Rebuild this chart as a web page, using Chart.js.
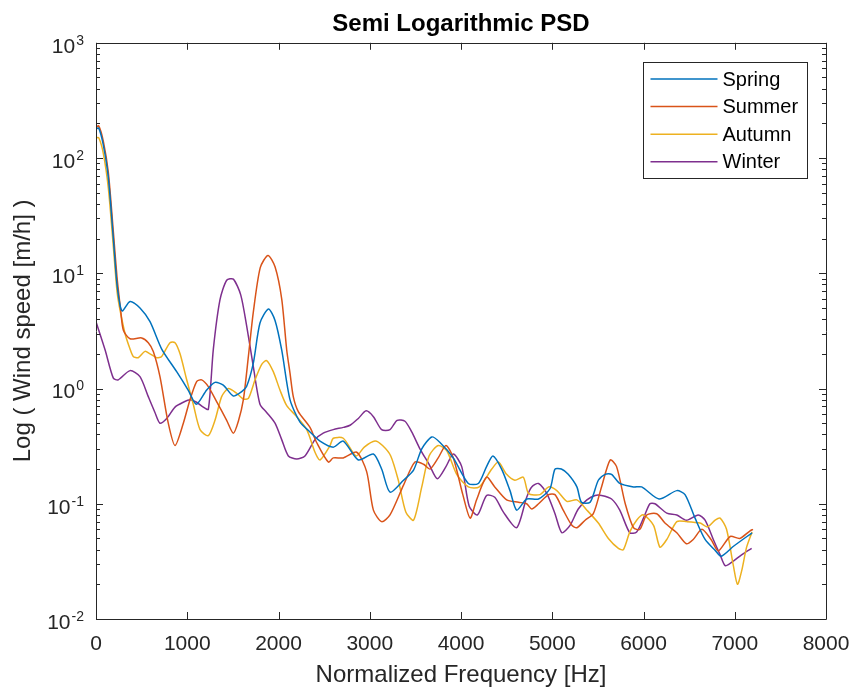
<!DOCTYPE html>
<html>
<head>
<meta charset="utf-8">
<title>Semi Logarithmic PSD</title>
<script src="https://cdn.jsdelivr.net/npm/chart.js@4.4.1/dist/chart.umd.min.js"></script>
<style>
  html, body { margin: 0; padding: 0; background: #fff; }
</style>
</head>
<body>
<canvas id="psdChart" width="853" height="690"></canvas>
<script>
const FONT = "'Liberation Sans', Arial, Helvetica, sans-serif";
const AXIS_COLOR = "#262626";

const seasons = ["Spring", "Summer", "Autumn", "Winter"];
const seasonColors = ["#0072BD", "#D95319", "#EDB120", "#7E2F8E"];

// frequency [Hz] / PSD pairs
const springFreq = [0, 30, 80, 135, 190, 230, 265, 290, 373, 482, 592, 720, 884, 1010, 1100, 1213, 1304, 1395, 1505, 1597, 1650, 1724, 1797, 1890, 1962, 2035, 2126, 2236, 2345, 2455, 2600, 2710, 2875, 3040, 3130, 3222, 3370, 3480, 3570, 3680, 3770, 3915, 4080, 4190, 4280, 4350, 4445, 4537, 4610, 4720, 4850, 4975, 5030, 5100, 5175, 5270, 5320, 5415, 5505, 5580, 5650, 5740, 5890, 5980, 6170, 6365, 6455, 6565, 6675, 6790, 6850, 6990, 7190];
const springPsd = [178, 182, 130, 68, 20, 8, 5.2, 4.7, 5.7, 5.0, 3.8, 2.2, 1.4, 0.97, 0.73, 0.97, 1.13, 1.07, 0.86, 0.94, 1.04, 1.66, 3.7, 4.9, 3.9, 2.16, 0.8, 0.51, 0.42, 0.35, 0.31, 0.35, 0.24, 0.27, 0.2, 0.126, 0.16, 0.196, 0.3, 0.38, 0.34, 0.25, 0.15, 0.15, 0.21, 0.26, 0.2, 0.13, 0.088, 0.11, 0.11, 0.135, 0.2, 0.2, 0.18, 0.14, 0.103, 0.103, 0.16, 0.18, 0.18, 0.15, 0.14, 0.14, 0.11, 0.13, 0.12, 0.075, 0.049, 0.039, 0.035, 0.043, 0.056];

const summerFreq = [0, 30, 80, 135, 190, 230, 270, 300, 373, 500, 573, 628, 701, 792, 866, 957, 1030, 1103, 1158, 1231, 1322, 1432, 1505, 1560, 1615, 1670, 1724, 1800, 1885, 1962, 2035, 2090, 2126, 2162, 2217, 2345, 2418, 2546, 2600, 2710, 2857, 2966, 3040, 3130, 3222, 3370, 3495, 3590, 3660, 3750, 3835, 3916, 4020, 4100, 4170, 4280, 4370, 4500, 4630, 4720, 4775, 4850, 4960, 5030, 5120, 5215, 5270, 5360, 5450, 5540, 5635, 5705, 5800, 5890, 5960, 6035, 6145, 6235, 6365, 6470, 6545, 6640, 6740, 6820, 6950, 7055, 7165, 7200];
const summerPsd = [185, 190, 140, 75, 23, 9.3, 4.8, 3.2, 2.7, 2.75, 2.5, 2.1, 1.27, 0.5, 0.32, 0.5, 0.8, 1.15, 1.19, 1.04, 0.77, 0.53, 0.41, 0.52, 0.8, 1.9, 4.6, 11.2, 14.3, 11.4, 6.0, 2.16, 1.36, 0.85, 0.63, 0.46, 0.34, 0.23, 0.25, 0.25, 0.28, 0.19, 0.088, 0.07, 0.08, 0.145, 0.23, 0.22, 0.2, 0.25, 0.32, 0.25, 0.12, 0.075, 0.108, 0.17, 0.14, 0.108, 0.103, 0.1, 0.09, 0.1, 0.12, 0.12, 0.088, 0.065, 0.062, 0.072, 0.082, 0.14, 0.24, 0.21, 0.1, 0.062, 0.06, 0.08, 0.082, 0.068, 0.056, 0.045, 0.049, 0.06, 0.049, 0.039, 0.052, 0.05, 0.058, 0.06];

const autumnFreq = [0, 30, 80, 135, 190, 230, 255, 318, 373, 408, 463, 537, 592, 665, 720, 811, 866, 921, 994, 1066, 1140, 1231, 1304, 1377, 1450, 1541, 1615, 1670, 1743, 1816, 1870, 1943, 2016, 2090, 2200, 2310, 2400, 2455, 2565, 2600, 2710, 2850, 2940, 3058, 3140, 3230, 3313, 3395, 3480, 3570, 3650, 3750, 3843, 3953, 4080, 4200, 4337, 4410, 4500, 4590, 4683, 4740, 4865, 4960, 5050, 5160, 5270, 5380, 5505, 5615, 5725, 5780, 5850, 5925, 6000, 6110, 6180, 6255, 6365, 6470, 6620, 6700, 6785, 6840, 6910, 6985, 7030, 7075, 7130, 7190];
const autumnPsd = [150, 150, 110, 55, 17, 7, 5.2, 3.0, 2.2, 1.9, 1.85, 2.1, 2.0, 1.85, 1.9, 2.5, 2.5, 2.0, 1.19, 0.73, 0.44, 0.39, 0.53, 0.85, 1.0, 0.91, 0.81, 0.82, 1.19, 1.62, 1.75, 1.4, 0.97, 0.71, 0.57, 0.44, 0.28, 0.24, 0.32, 0.37, 0.37, 0.26, 0.31, 0.35, 0.32, 0.26, 0.16, 0.085, 0.072, 0.14, 0.26, 0.32, 0.29, 0.18, 0.14, 0.14, 0.2, 0.23, 0.18, 0.16, 0.17, 0.123, 0.12, 0.14, 0.13, 0.105, 0.108, 0.088, 0.068, 0.05, 0.041, 0.04, 0.057, 0.072, 0.08, 0.065, 0.042, 0.049, 0.07, 0.07, 0.068, 0.063, 0.072, 0.075, 0.06, 0.029, 0.02, 0.026, 0.042, 0.057];

const winterFreq = [0, 100, 190, 244, 373, 482, 573, 646, 701, 775, 866, 957, 1030, 1103, 1176, 1231, 1286, 1359, 1432, 1505, 1586, 1651, 1724, 1797, 1870, 1962, 2035, 2108, 2200, 2290, 2400, 2490, 2600, 2710, 2784, 2875, 2960, 3040, 3130, 3222, 3300, 3386, 3460, 3550, 3650, 3740, 3835, 3916, 4008, 4090, 4180, 4280, 4370, 4463, 4610, 4720, 4775, 4850, 4940, 5030, 5105, 5195, 5285, 5380, 5470, 5540, 5650, 5740, 5850, 5925, 6000, 6070, 6125, 6255, 6365, 6470, 6600, 6675, 6765, 6840, 6895, 6965, 7075, 7185];
const winterPsd = [3.8, 2.16, 1.23, 1.19, 1.43, 1.27, 0.85, 0.62, 0.5, 0.55, 0.69, 0.76, 0.8, 0.76, 0.69, 0.66, 2.2, 5.9, 8.7, 8.9, 6.5, 3.5, 1.55, 0.73, 0.62, 0.5, 0.36, 0.26, 0.245, 0.26, 0.36, 0.41, 0.44, 0.46, 0.48, 0.55, 0.64, 0.57, 0.44, 0.44, 0.53, 0.52, 0.42, 0.3, 0.22, 0.165, 0.21, 0.27, 0.21, 0.095, 0.08, 0.118, 0.114, 0.085, 0.062, 0.114, 0.14, 0.15, 0.123, 0.082, 0.056, 0.065, 0.09, 0.108, 0.118, 0.118, 0.11, 0.088, 0.056, 0.057, 0.075, 0.1, 0.1, 0.083, 0.08, 0.072, 0.08, 0.072, 0.049, 0.036, 0.029, 0.031, 0.036, 0.041];

const xTickStep = 1000;
const yDecades = [-2, -1, 0, 1, 2, 3];

const seriesFreq = [springFreq, summerFreq, autumnFreq, winterFreq];
const seriesPsd = [springPsd, summerPsd, autumnPsd, winterPsd];

function toPoints(freq, psd) {
  return freq.map((f, i) => ({ x: f, y: psd[i] }));
}

// MATLAB-like box, inward ticks, 10^n labels and boxed legend
const matlabAxes = {
  id: "matlabAxes",
  afterDatasetsDraw(chart) {
    const { ctx, chartArea: a, scales } = chart;
    const x = scales.x;
    const y = scales.y;
    ctx.save();
    ctx.strokeStyle = AXIS_COLOR;
    ctx.lineWidth = 1;

    ctx.beginPath();
    ctx.rect(Math.round(a.left) + 0.5, Math.round(a.top) + 0.5,
      Math.round(a.right - a.left), Math.round(a.bottom - a.top));
    ctx.stroke();

    ctx.beginPath();
    for (let v = x.min; v <= x.max; v += xTickStep) {
      const px = Math.round(x.getPixelForValue(v)) + 0.5;
      ctx.moveTo(px, a.bottom); ctx.lineTo(px, a.bottom - 7);
      ctx.moveTo(px, a.top); ctx.lineTo(px, a.top + 7);
    }
    for (let e = yDecades[0]; e < yDecades[yDecades.length - 1] + 1; e++) {
      for (let m = 1; m <= 9; m++) {
        const v = m * Math.pow(10, e);
        if (v > y.max * 1.0001) break;
        const py = Math.round(y.getPixelForValue(v)) + 0.5;
        const len = m === 1 ? 7 : 4;
        ctx.moveTo(a.left, py); ctx.lineTo(a.left + len, py);
        ctx.moveTo(a.right, py); ctx.lineTo(a.right - len, py);
      }
    }
    ctx.stroke();

    // y tick labels: 10 with superscript exponent
    ctx.fillStyle = AXIS_COLOR;
    ctx.textBaseline = "middle";
    ctx.textAlign = "left";
    const right = a.left - 12;
    yDecades.forEach((e) => {
      const py = y.getPixelForValue(Math.pow(10, e));
      const exp = e < 0 ? "-" + Math.abs(e) : String(e);
      ctx.font = "14px " + FONT;
      const wExp = ctx.measureText(exp).width;
      ctx.font = "21px " + FONT;
      const wBase = ctx.measureText("10").width;
      ctx.fillText("10", right - wExp - wBase - 1, py + 4);
      ctx.font = "14px " + FONT;
      ctx.fillText(exp, right - wExp, py - 2);
    });

    // legend
    const boxW = 164, boxH = 116;
    const bx = Math.round(a.right - 19 - boxW) + 0.5;
    const by = Math.round(a.top + 19) + 0.5;
    ctx.fillStyle = "#fff";
    ctx.fillRect(bx, by, boxW, boxH);
    ctx.strokeStyle = AXIS_COLOR;
    ctx.strokeRect(bx, by, boxW, boxH);
    ctx.font = "20px " + FONT;
    chart.data.datasets.forEach((ds, i) => {
      const ry = by + 16.5 + i * 27.6;
      ctx.strokeStyle = ds.borderColor;
      ctx.lineWidth = 1.5;
      ctx.beginPath();
      ctx.moveTo(bx + 7, ry); ctx.lineTo(bx + 74, ry);
      ctx.stroke();
      ctx.fillStyle = "#000";
      ctx.fillText(ds.label, bx + 79, ry + 1);
    });
    ctx.restore();
  },
};

function renderPsdChart() {
  const ctx = document.getElementById("psdChart");

  const datasets = seasons.map((name, i) => ({
    label: name,
    data: toPoints(seriesFreq[i], seriesPsd[i]),
    borderColor: seasonColors[i],
    backgroundColor: seasonColors[i],
    borderWidth: 1.5,
    pointRadius: 0,
    tension: 0.25,
    fill: false,
  }));

  new Chart(ctx, {
    type: "line",
    data: { datasets },
    plugins: [matlabAxes],
    options: {
      responsive: false,
      animation: false,
      devicePixelRatio: 1,
      layout: { padding: { top: 0, right: 27, bottom: 0, left: 0 } },
      plugins: {
        legend: { display: false },
        tooltip: { enabled: false },
        title: {
          display: true,
          fullSize: false,
          text: "Semi Logarithmic PSD",
          color: "#000",
          font: { family: FONT, size: 24, weight: "bold" },
          padding: { top: 10, bottom: 4 },
        },
      },
      scales: {
        x: {
          type: "linear",
          min: 0,
          max: 8000,
          grid: { display: false, drawTicks: false },
          border: { display: false },
          ticks: {
            stepSize: xTickStep,
            padding: 13,
            autoSkip: false,
            maxRotation: 0,
            color: AXIS_COLOR,
            font: { family: FONT, size: 21 },
            callback: (v) => String(v),
          },
          title: {
            display: true,
            text: "Normalized Frequency [Hz]",
            color: AXIS_COLOR,
            font: { family: FONT, size: 24 },
            padding: { top: 0, bottom: 0 },
          },
          afterFit: (s) => {
            s.height = 71;
            s.paddingLeft = 0;
            s.paddingRight = 0;
          },
        },
        y: {
          type: "logarithmic",
          min: 0.01,
          max: 1000,
          grid: { display: false, drawTicks: false },
          border: { display: false },
          ticks: { display: false },
          title: {
            display: true,
            text: "Log ( Wind speed [m/h] )",
            color: AXIS_COLOR,
            font: { family: FONT, size: 24 },
            padding: { top: 9, bottom: 0 },
          },
          afterFit: (s) => {
            s.width = 96;
            s.paddingTop = 0;
            s.paddingBottom = 0;
          },
        },
      },
    },
  });
}

document.addEventListener("DOMContentLoaded", renderPsdChart);
</script>
</body>
</html>
